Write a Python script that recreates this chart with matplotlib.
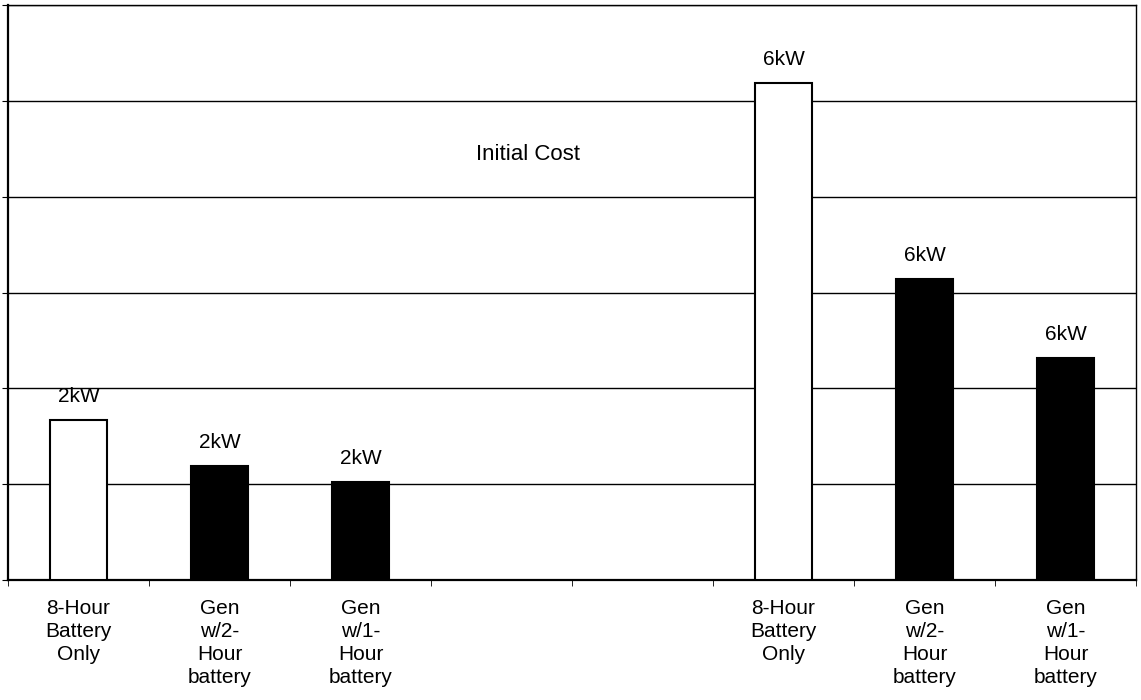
import matplotlib
matplotlib.use('Agg')
import matplotlib.pyplot as plt
import numpy as np

plt.rcParams['font.family'] = ['Liberation Sans', 'DejaVu Sans']

categories = ['8-Hour\nBattery\nOnly', 'Gen\nw/2-\nHour\nbattery', 'Gen\nw/1-\nHour\nbattery',
              '', '',
              '8-Hour\nBattery\nOnly', 'Gen\nw/2-\nHour\nbattery', 'Gen\nw/1-\nHour\nbattery']
values = [1.67, 1.19, 1.02, 0, 0, 5.19, 3.14, 2.32]
sizes = ['2kW', '2kW', '2kW', '', '', '6kW', '6kW', '6kW']
fills = ['white', 'black', 'black', None, None, 'white', 'black', 'black']

fig = plt.figure(figsize=(11.41, 7.0), dpi=100)
ax = fig.add_axes([8 / 1141, 120 / 700, 1128 / 1141, 575 / 700])

x = np.arange(len(categories))
for i in x:
    if categories[i] == '':
        continue
    b = ax.bar(i, values[i], width=0.41, color=fills[i], edgecolor='black', linewidth=1.5, zorder=3)
    ax.bar_label(b, labels=[sizes[i]], padding=10, fontsize=15)

ax.set_xlim(-0.5, 7.5)
ax.set_ylim(0, 6)
ax.set_yticks(np.arange(0, 7, 1))
ax.set_yticklabels([])
ax.yaxis.grid(True, color='black', linewidth=1)
ax.set_axisbelow(True)

ax.set_xticks(x)
ax.set_xticklabels(categories, fontsize=15, va='top', linespacing=1.25)
ax.tick_params(axis='x', which='major', length=0, pad=14)
ax.set_xticks(np.arange(-0.5, 8, 1), minor=True)
ax.tick_params(axis='x', which='minor', length=4, direction='out')
ax.tick_params(axis='y', length=4, direction='out')

for s in ['left', 'bottom']:
    ax.spines[s].set_linewidth(1.6)
for s in ['top', 'right']:
    ax.spines[s].set_linewidth(1)

ax.text(3.19, 4.44, 'Initial Cost', fontsize=16, ha='center', va='center')

fig.savefig('out.png', dpi=100)
